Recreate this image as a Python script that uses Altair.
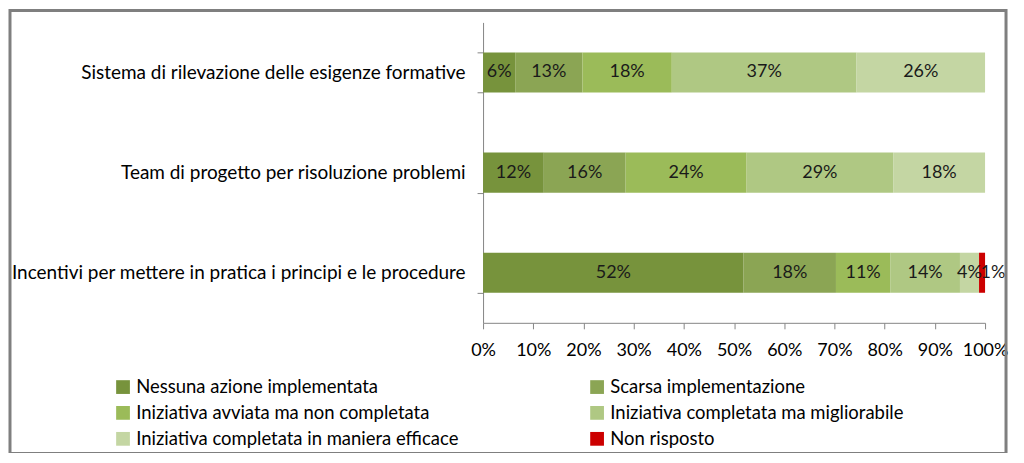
import altair as alt
import pandas as pd

categories = [
    "Sistema di rilevazione delle esigenze formative",
    "Team di progetto per risoluzione problemi",
    "Incentivi per mettere in pratica i principi e le procedure",
]
series = [
    "Nessuna azione implementata",
    "Scarsa implementazione",
    "Iniziativa avviata ma non completata",
    "Iniziativa completata ma migliorabile",
    "Iniziativa completata in maniera efficace",
    "Non risposto",
]
colors = ["#77933c", "#8ba554", "#9bbb59", "#afc883", "#c4d6a3", "#cc0000"]

sistema = [0.064, 0.134, 0.178, 0.368, 0.256, 0.0]
team = [0.121, 0.163, 0.241, 0.292, 0.183, 0.0]
incentivi = [0.519, 0.184, 0.108, 0.139, 0.038, 0.012]

rows = []
for cat, vals in zip(categories, [sistema, team, incentivi]):
    for i, (s, v) in enumerate(zip(series, vals)):
        if v > 0:
            rows.append({"cat": cat, "series": s, "order": i, "value": v})
df = pd.DataFrame(rows)

# legend is filled column by column: reorder so it reads row by row
legend_order = [0, 2, 4, 1, 3, 5]
legend_domain = [series[i] for i in legend_order]
legend_range = [colors[i] for i in legend_order]

FONT = "Lato"
W, H = 503, 301

base = alt.Chart(df).transform_stack(
    stack="value", groupby=["cat"], as_=["v0", "v1"], sort=[alt.SortField("order")]
).transform_calculate(mid="(datum.v0 + datum.v1) / 2")

yenc = alt.Y(
    "cat:N",
    sort=categories,
    title=None,
    scale=alt.Scale(paddingInner=0.6, paddingOuter=0.3),
    axis=alt.Axis(
        tickBand="extent",
        labelFontSize=19,
        labelFont=FONT,
        labelColor="#000000",
        labelPadding=12,
        tickSize=6,
        tickColor="#868686",
        domainColor="#868686",
        labelLimit=480,
    ),
)

bars = base.mark_bar().encode(
    x=alt.X(
        "v0:Q",
        title=None,
        scale=alt.Scale(domain=[0, 1], nice=False),
        axis=alt.Axis(
            format=".0%",
            values=[i / 10 for i in range(11)],
            grid=False,
            labelFontSize=18,
            labelFont=FONT,
            labelColor="#000000",
            tickSize=6,
            tickColor="#868686",
            domainColor="#868686",
            labelPadding=13,
            labelFlush=False,
        ),
    ),
    x2="v1:Q",
    y=yenc,
    color=alt.Color(
        "series:N",
        scale=alt.Scale(domain=legend_domain, range=legend_range),
        legend=alt.Legend(
            title=None,
            orient="none",
            legendX=-370,
            legendY=356,
            columns=2,
            columnPadding=129,
            rowPadding=7,
            symbolType="square",
            symbolSize=190,
            symbolStrokeWidth=0,
            labelFontSize=18.5,
            labelFont=FONT,
            labelColor="#000000",
            labelLimit=500,
            labelOffset=4,
        ),
    ),
    order=alt.Order("order:Q"),
)

labels = base.transform_filter(alt.datum.series != "Non risposto").mark_text(
    fontSize=18, font=FONT, color="#1a1a1a"
).encode(
    x="mid:Q",
    y=alt.Y("cat:N", sort=categories),
    text=alt.Text("value:Q", format=".0%"),
)

labels_nr = base.transform_filter(alt.datum.series == "Non risposto").mark_text(
    fontSize=18, font=FONT, color="#1a1a1a", dx=11
).encode(
    x="mid:Q",
    y=alt.Y("cat:N", sort=categories),
    text=alt.Text("value:Q", format=".0%"),
)

frame = alt.Chart(pd.DataFrame({"a": [0]})).mark_rect(
    filled=False, stroke="#7f7f7f", strokeWidth=3
).encode(
    x=alt.value(-474), x2=alt.value(524), y=alt.value(-12), y2=alt.value(432)
)

chart = alt.layer(bars, labels, labels_nr, frame).properties(
    width=W,
    height=H,
    autosize=alt.AutoSizeParams(type="none"),
    padding={"left": 476, "top": 14, "right": 31, "bottom": 130},
).configure_view(stroke=None)

chart.save("out.html", embed_options={"renderer": "svg", "actions": False})
